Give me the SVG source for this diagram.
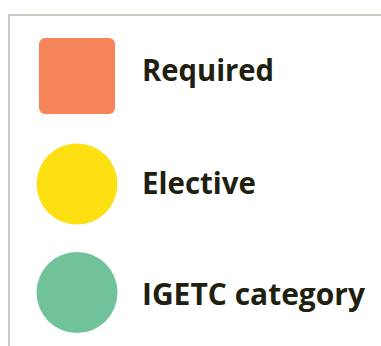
<svg xmlns="http://www.w3.org/2000/svg" width="381" height="346" viewBox="0 0 381 346">
<style>
.lbl{font-family:"Open Sans","DejaVu Sans",sans-serif;font-weight:700;font-size:31px;fill:#211f10}
</style>
<rect width="381" height="346" fill="#ffffff"/>
<rect x="9" y="15" width="400" height="360" fill="none" stroke="#c9c9c1" stroke-width="2"/>
<g id="required">
<rect x="39" y="38" width="76" height="76" rx="6" fill="#f5845a"/>
<text class="lbl" x="142" y="81" textLength="132" lengthAdjust="spacingAndGlyphs">Required</text>
</g>
<g id="elective">
<circle cx="77" cy="184" r="40.5" fill="#fde011"/>
<text class="lbl" x="142" y="194" textLength="114" lengthAdjust="spacingAndGlyphs">Elective</text>
</g>
<g id="igetc">
<circle cx="77" cy="292.5" r="40.5" fill="#70c29a"/>
<text class="lbl" x="142" y="305" textLength="223" lengthAdjust="spacingAndGlyphs">IGETC category</text>
</g>
<g id="connectors"/>
</svg>
